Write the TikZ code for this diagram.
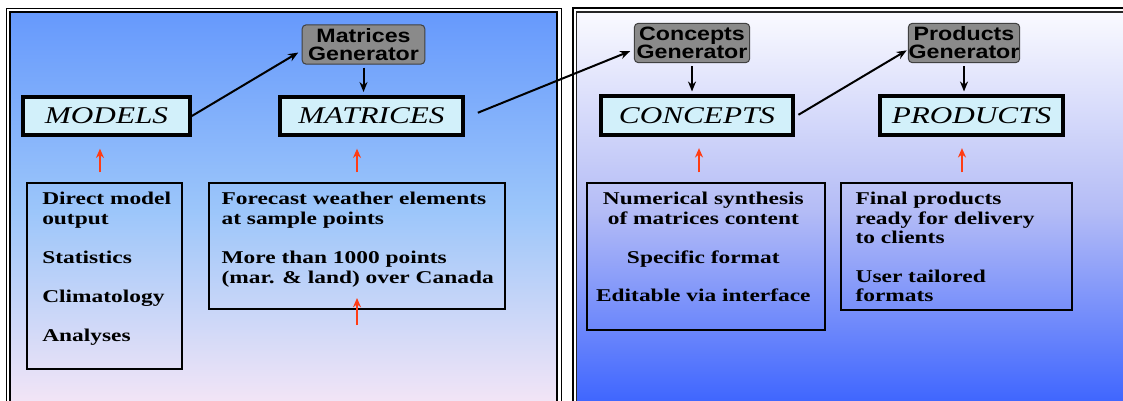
\documentclass[tikz,border=0pt]{standalone}
\usepackage{fontspec}
\setmainfont{Liberation Serif}[FakeStretch=1.3]
\newfontfamily\genfont{Liberation Sans}[FakeStretch=1.2]
\usepackage{tikz}
\usetikzlibrary{arrows.meta}

\definecolor{leftTop}{HTML}{6699FC}
\definecolor{leftMid}{HTML}{9CC6FA}
\definecolor{leftBot}{HTML}{F6E6F6}
\definecolor{rightTop}{HTML}{FAFAFF}
\definecolor{rightMid}{HTML}{B4BCF6}
\definecolor{rightBot}{HTML}{3A62FF}
\definecolor{genGray}{HTML}{8A8A8A}
\definecolor{boxCyan}{HTML}{D2F0FA}
\definecolor{upRed}{HTML}{FF3C14}

\tikzset{
  genbox/.style={draw=black!75, fill=genGray, rounded corners=3pt, line width=0.75pt, inner sep=0pt,
    minimum height=29.5pt, align=center, font=\genfont\bfseries\fontsize{14.5}{13.5}\selectfont},
  stagebox/.style={draw=black, fill=boxCyan, line width=3pt, inner sep=0pt,
    minimum height=29pt, font=\itshape\fontsize{18}{20}\selectfont},
  infobox/.style={draw=black, line width=1.5pt, inner sep=0pt},
  infotext/.style={inner sep=0pt, font=\bfseries\fontsize{13.5}{15}\selectfont},
  flow/.style={-{Stealth[length=7.5pt,width=6pt]}, line width=1.5pt},
  feed/.style={-{Stealth[length=7pt,width=6pt]}, line width=2pt, upRed},
}

\begin{document}
\begin{tikzpicture}[x=0.75pt,y=-0.75pt]
    \clip (0,0) rectangle (1123,400);
    \fill[white] (0,0) rectangle (1123,400);

    % the two panels
    \fill[top color=leftTop, bottom color=leftBot, middle color=leftMid] (10,12) rectangle (557,410);
    \draw[line width=0.75pt] (6,8) rectangle (561,410);
    \draw[line width=1.5pt] (10,12) rectangle (557,410);
    \fill[top color=rightTop, bottom color=rightBot, middle color=rightMid] (576,12) rectangle (1130,410);
    \draw[line width=1.5pt] (573,8) rectangle (1130,410);
    \draw[line width=1pt, black!85] (576.5,12) rectangle (1130,410);

    % generators
    \node[genbox, minimum width=92pt]   (matgen)  at (363.5,44.5) {Matrices\\Generator};
    \node[genbox, minimum width=86.5pt] (congen)  at (692,43)     {Concepts\\Generator};
    \node[genbox, minimum width=83.5pt] (prodgen) at (964,43)     {Products\\Generator};

    % stages
    \node[stagebox, minimum width=125pt] (models)   at (106.5,116) {MODELS};
    \node[stagebox, minimum width=137pt] (matrices) at (371.5,116) {MATRICES};
    \node[stagebox, minimum width=144pt] (concepts) at (697,115.5) {CONCEPTS};
    \node[stagebox, minimum width=137pt] (products) at (971.5,115.5) {PRODUCTS};

    % information boxes
    \node[infobox, minimum width=116.25pt, minimum height=139.5pt]  (srcmodels)   at (104.5,276) {};
    \node[infobox, minimum width=222pt,    minimum height=94.5pt]   (srcmatrices) at (357,246)   {};
    \node[infobox, minimum width=178.5pt,  minimum height=110.25pt] (srcconcepts) at (706,256.5) {};
    \node[infobox, minimum width=173.25pt, minimum height=95.25pt]  (srcproducts) at (956.5,246.5) {};

    \node[infotext, anchor=north west, align=left] (txtmodels) at ([xshift=12pt,yshift=-7.5pt]srcmodels.north west)
      {Direct model\\output\\[14.25pt]Statistics\\[14.25pt]Climatology\\[14.25pt]Analyses};
    \node[infotext, anchor=north west, align=left] (txtmatrices) at ([xshift=10pt,yshift=-7.5pt]srcmatrices.north west)
      {Forecast weather elements\\at sample points\\[14.25pt]More than 1000 points\\(mar. \& land) over Canada};
    \node[infotext, anchor=north, align=center] (txtconcepts) at ([xshift=-2pt,yshift=-7.5pt]srcconcepts.north)
      {Numerical synthesis\\of matrices content\\[14.25pt]Specific format\\[13.5pt]Editable via interface};
    \node[infotext, anchor=north west, align=left, font=\bfseries\fontsize{13.5}{14.6}\selectfont] (txtproducts)
      at ([xshift=11.5pt,yshift=-7.5pt]srcproducts.north west)
      {Final products\\ready for delivery\\to clients\\[14.5pt]User tailored\\formats};

    % generator to stage
    \foreach \g/\s in {matgen/matrices, congen/concepts, prodgen/products}
      \draw[flow, shorten <=2.25pt, shorten >=2pt] (\g.south) -- (\g.south |- \s.north);

    % stage to next generator
    \draw[flow, shorten >=3pt] (models.east) -- ([yshift=-4.5pt]matgen.west);
    \draw[flow, shorten <=10.5pt, shorten >=3pt] ([yshift=-1.5pt]matrices.east) -- ([yshift=-5pt]congen.west);
    \draw[flow, shorten <=3pt, shorten >=1pt] ([yshift=-1pt]concepts.east) -- ([yshift=-5pt]prodgen.west);

    % inputs
    \foreach \b/\s/\dx in {srcmodels/models/-3.4, srcmatrices/matrices/0, srcconcepts/concepts/-5.25, srcproducts/products/4.1}
      \draw[feed, shorten <=7.3pt, shorten >=8.5pt] ([xshift=\dx pt]\b.north) -- ([xshift=\dx pt]\b.north |- \s.south);
    \coordinate (fctail) at (357,325);
    \coordinate (fctip)  at (357,298);
    \draw[feed] (fctail) -- (fctip);
\end{tikzpicture}
\end{document}
